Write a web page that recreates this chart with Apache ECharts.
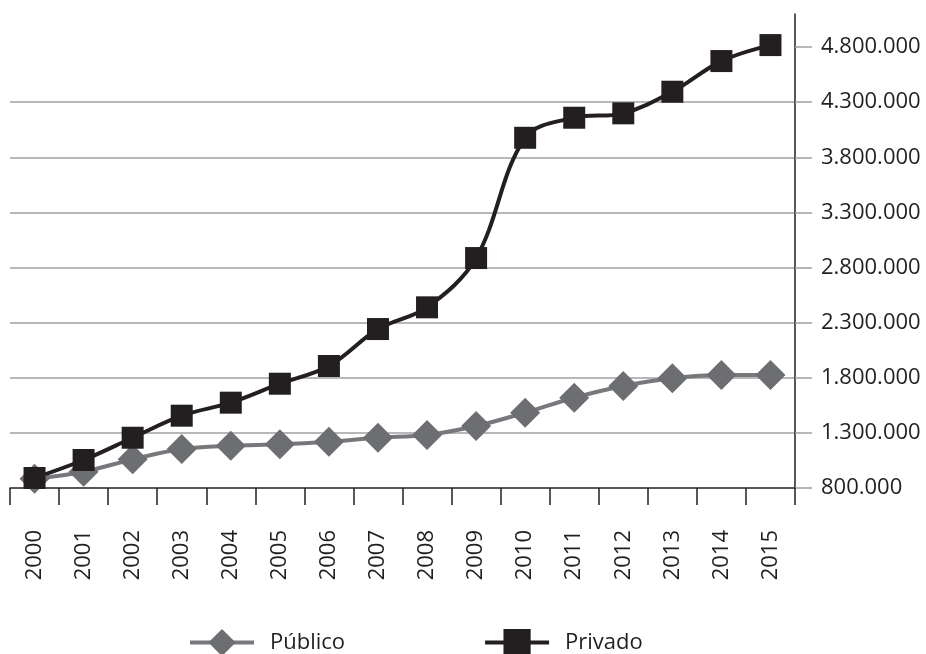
<!DOCTYPE html>
<html>
<head>
<meta charset="utf-8">
<script src="https://cdn.jsdelivr.net/npm/echarts@6/dist/echarts.min.js"></script>
<style>
  html, body { margin: 0; padding: 0; background: #fff; }
  #chart { width: 926px; height: 654px; }
</style>
</head>
<body>
<div id="chart"></div>
<script>
// years on the x axis
const years = ['2000', '2001', '2002', '2003', '2004', '2005', '2006', '2007',
  '2008', '2009', '2010', '2011', '2012', '2013', '2014', '2015'];
// series values
const publico = [885000, 948000, 1060000, 1154000, 1184000, 1196000, 1220000, 1256000,
  1281000, 1362000, 1483000, 1619000, 1725000, 1795000, 1825000, 1825000];
const privado = [891000, 1054000, 1256000, 1456000, 1574000, 1746000, 1907000, 2242000,
  2439000, 2886000, 3977000, 4159000, 4199000, 4395000, 4673000, 4818000];
// y tick values
const yTicks = [800000, 1300000, 1800000, 2300000, 2800000, 3300000, 3800000, 4300000, 4800000];

const font = '"Open Sans", "Noto Sans", sans-serif';
const ink = '#231f20';

function fmt(v) {
  return String(v).replace(/\B(?=(\d{3})+(?!\d))/g, '.');
}

const chart = echarts.init(document.getElementById('chart'), null, { renderer: 'canvas' });

chart.setOption({
  animation: false,
  textStyle: { fontFamily: font },
  grid: { left: 10, right: 131, top: 14, bottom: 166 },
  legend: {
    left: 183,
    top: 624,
    itemWidth: 64,
    itemHeight: 34,
    itemGap: 138,
    lineStyle: { width: 4 },
    textStyle: { fontSize: 22, color: ink, fontFamily: font, padding: [0, 0, 0, 11] },
    data: ['Público', 'Privado']
  },
  xAxis: {
    type: 'category',
    data: years,
    boundaryGap: true,
    axisLine: { lineStyle: { color: ink, width: 1.5 } },
    axisTick: { show: true, length: 17, lineStyle: { color: ink, width: 1.5 } },
    axisLabel: { rotate: 90, margin: 42, fontSize: 22, color: ink, fontFamily: font }
  },
  yAxis: {
    type: 'value',
    position: 'right',
    min: 800000,
    max: 5100000,
    interval: 500000,
    axisLine: { show: true, lineStyle: { color: ink, width: 1.5 } },
    axisTick: { show: true, inside: false, length: 17, customValues: yTicks,
      lineStyle: { color: '#a0a0a0', width: 1.5 } },
    axisLabel: { customValues: yTicks, margin: 26, fontSize: 22, color: ink,
      fontFamily: font, formatter: fmt },
    splitLine: { show: true, showMinLine: false, showMaxLine: false,
      lineStyle: { color: '#a0a0a0', width: 1.5 } }
  },
  series: [
    {
      name: 'Público',
      type: 'line',
      data: publico,
      smooth: 0.35,
      symbol: 'diamond',
      symbolSize: 30,
      lineStyle: { color: '#77787b', width: 4 },
      itemStyle: { color: '#6d6e71' }
    },
    {
      name: 'Privado',
      type: 'line',
      data: privado,
      smooth: 0.35,
      symbol: 'rect',
      symbolSize: 22,
      lineStyle: { color: ink, width: 4 },
      itemStyle: { color: ink }
    }
  ]
});
</script>
</body>
</html>
